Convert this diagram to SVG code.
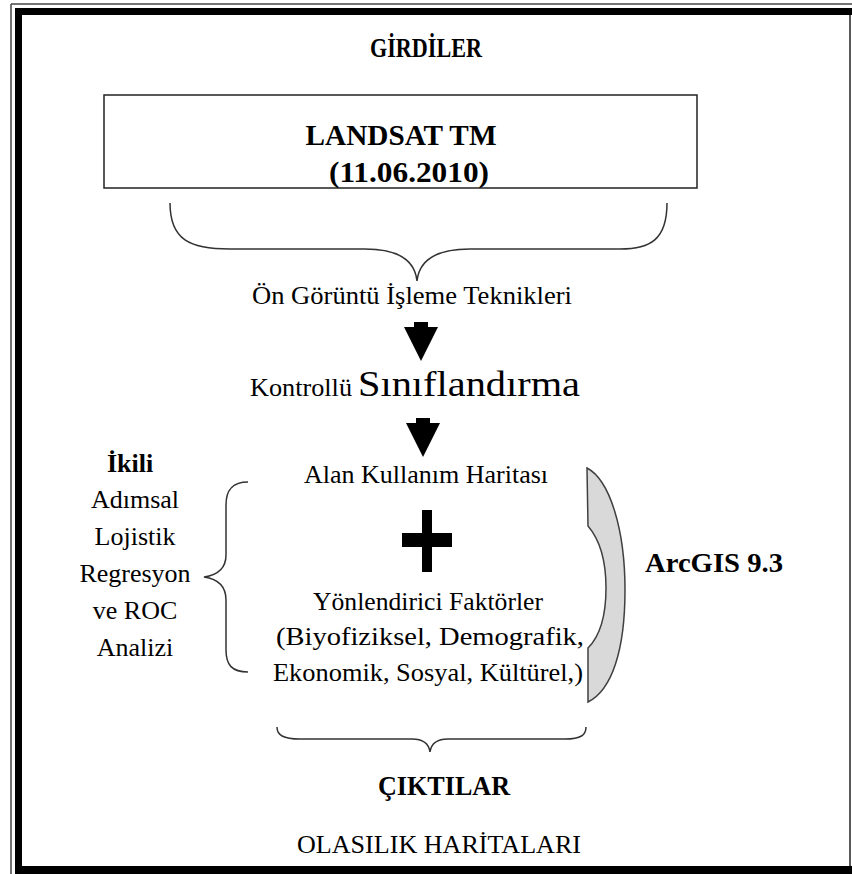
<svg xmlns="http://www.w3.org/2000/svg" width="852" height="874" viewBox="0 0 852 874">
  <style>
    text { font-family: "Liberation Serif", "Times New Roman", serif; fill: #000; text-anchor: middle; }
    .t { font-size: 26px; }
    .b { font-weight: bold; }
    .brace { fill: none; stroke: #333; stroke-width: 1.5; }
    .arrow { fill: #000; }
  </style>

  <!-- page frame -->
  <g id="frame">
    <rect x="0" y="0" width="852" height="874" fill="#fff"/>
    <line x1="11" y1="4" x2="852" y2="4" stroke="#444" stroke-width="1.5"/>
    <line x1="11" y1="4" x2="11" y2="874" stroke="#444" stroke-width="1.5"/>
    <rect x="15" y="8" width="837" height="7" fill="#000"/>
    <rect x="15" y="8" width="7" height="866" fill="#000"/>
    <line x1="850" y1="15" x2="850" y2="866" stroke="#222" stroke-width="1.5"/>
    <rect x="22" y="866" width="830" height="8" fill="#000"/>
  </g>

  <g id="inputs-title">
    <text class="b" x="426" y="57" style="font-size:28px" textLength="112" lengthAdjust="spacingAndGlyphs">GİRDİLER</text>
  </g>

  <g id="landsat">
    <rect x="104" y="95" width="593" height="93" fill="#fff" stroke="#222" stroke-width="1.5"/>
    <text class="b" x="401" y="145" style="font-size:30px" textLength="191" lengthAdjust="spacingAndGlyphs">LANDSAT TM</text>
    <text class="b" x="409" y="182" style="font-size:30px" textLength="160" lengthAdjust="spacingAndGlyphs">(11.06.2010)</text>
  </g>

  <g id="preprocessing">
    <text class="t" x="412" y="304" textLength="320" lengthAdjust="spacingAndGlyphs">Ön Görüntü İşleme Teknikleri</text>
  </g>

  <g id="classification">
    <text x="301" y="396" style="font-size:26px" textLength="102" lengthAdjust="spacingAndGlyphs">Kontrollü</text>
    <text x="469" y="396" style="font-size:36px" textLength="222" lengthAdjust="spacingAndGlyphs">Sınıflandırma</text>
  </g>

  <g id="landuse-map">
    <text class="t" x="426" y="483">Alan Kullanım Haritası</text>
  </g>

  <g id="plus">
    <rect x="422" y="510" width="10" height="62" fill="#000"/>
    <rect x="402" y="533" width="50" height="14" fill="#000"/>
  </g>

  <g id="driving-factors">
    <text class="t" x="428" y="610" textLength="230" lengthAdjust="spacingAndGlyphs">Yönlendirici Faktörler</text>
    <text class="t" x="430" y="645" textLength="308" lengthAdjust="spacingAndGlyphs">(Biyofiziksel, Demografik,</text>
    <text class="t" x="428" y="681" textLength="310" lengthAdjust="spacingAndGlyphs">Ekonomik, Sosyal, Kültürel,)</text>
  </g>

  <g id="regression">
    <text class="b" x="130" y="472" style="font-size:26px">İkili</text>
    <text class="t" x="135" y="508">Adımsal</text>
    <text class="t" x="135" y="545">Lojistik</text>
    <text class="t" x="135" y="582">Regresyon</text>
    <text class="t" x="135" y="619">ve ROC</text>
    <text class="t" x="135" y="656">Analizi</text>
  </g>

  <g id="arcgis">
    <path d="M587,468 C610,480 625,530 625,590 C625,650 612,690 588,702 L588,648 C600,636 606,615 606,588 C606,560 600,540 588,526 Z" fill="#d9d9d9" stroke="#404040" stroke-width="1.5"/>
    <text class="b" x="645" y="572" style="font-size:28px;text-anchor:start" textLength="138" lengthAdjust="spacingAndGlyphs">ArcGIS 9.3</text>
  </g>

  <g id="outputs">
    <text class="b" x="444" y="795" style="font-size:27px" textLength="132" lengthAdjust="spacingAndGlyphs">ÇIKTILAR</text>
    <text class="t" x="439" y="853" textLength="284" lengthAdjust="spacingAndGlyphs">OLASILIK HARİTALARI</text>
  </g>

  <!-- connectors: braces and flow arrows -->
  <g id="connectors">
    <path class="brace" d="M170,203 C170,240 190,249 230,249 L365,249 C400,249 415,262 417,281 C419,262 434,249 470,249 L620,249 C650,249 667,240 667,203"/>
    <path class="arrow" d="M414,322 L428,322 L428,327 L438,327 L421,361 L404,327 L414,327 Z"/>
    <path class="arrow" d="M416,418 L430,418 L430,423 L440,423 L423,457 L406,423 L416,423 Z"/>
    <path class="brace" d="M248,482 C232,482 226,490 226,505 L226,555 C226,568 218,575 204,577 C218,579 226,586 226,600 L226,650 C226,665 232,672 248,672"/>
    <path class="brace" d="M277,727 C277,735 283,739 300,739 L412,739 C424,739 429,745 430,752 C431,745 436,739 448,739 L565,739 C581,739 586,735 586,727"/>
  </g>
</svg>
